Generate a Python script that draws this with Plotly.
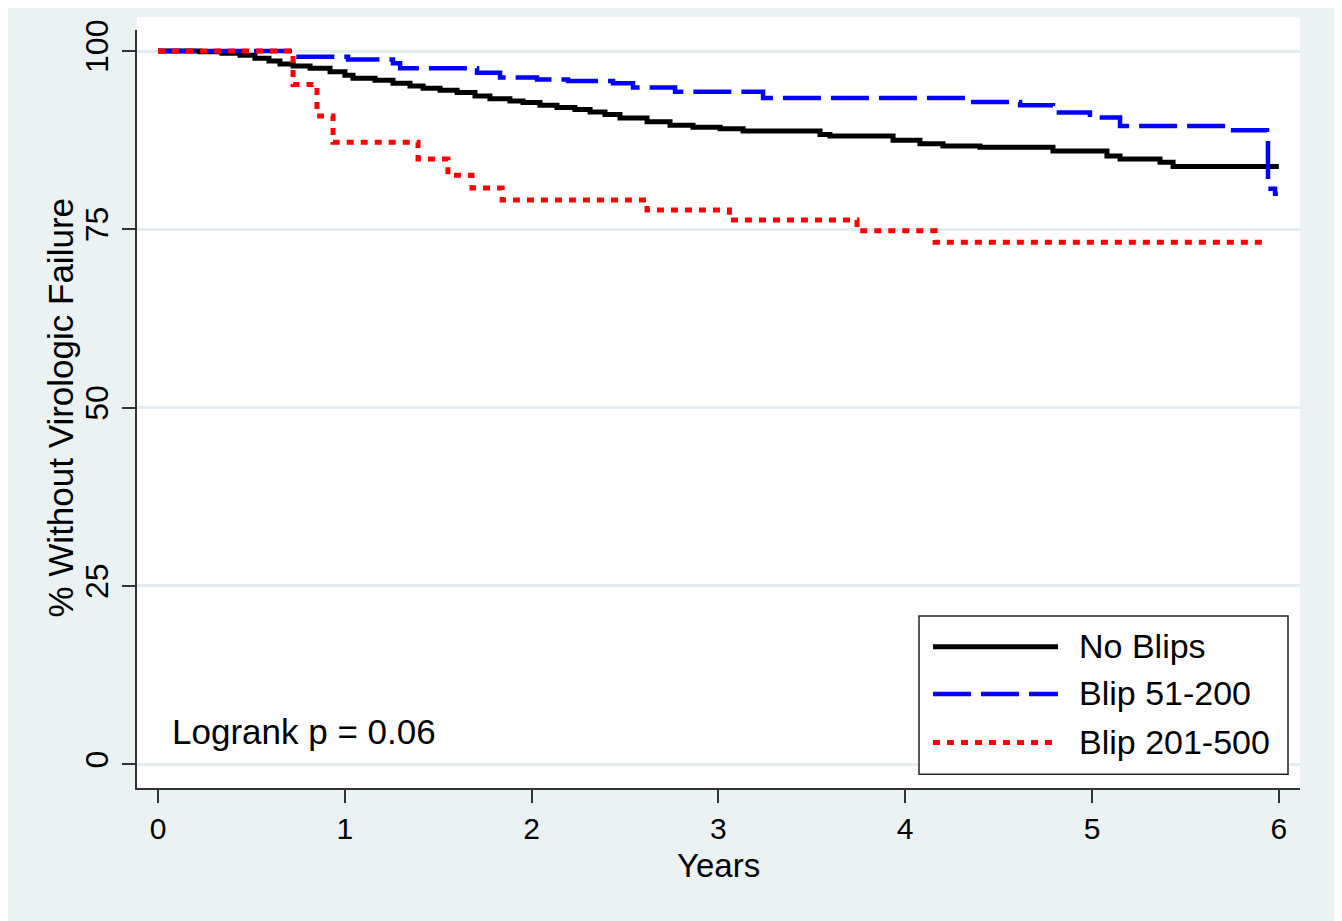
import plotly.graph_objects as go

# ---- data ----
years_no_blips = [0, 0.225, 0.343, 0.439, 0.519, 0.594, 0.653, 0.723, 0.814, 0.921, 1.001, 1.044,
                  1.162, 1.258, 1.349, 1.419, 1.51, 1.601, 1.697, 1.777, 1.884, 1.954, 2.045, 2.136,
                  2.232, 2.313, 2.393, 2.473, 2.618, 2.741, 2.864, 3.009, 3.132, 3.544, 3.597, 3.935,
                  4.079, 4.202, 4.4, 4.791, 5.08, 5.15, 5.364, 5.434, 6.0]
surv_no_blips = [100, 99.9, 99.7, 99.4, 99.0, 98.6, 98.2, 97.9, 97.6, 97.1, 96.6, 96.2,
                 95.9, 95.5, 95.1, 94.8, 94.5, 94.2, 93.7, 93.3, 93.0, 92.8, 92.4, 92.1,
                 91.8, 91.45, 91.1, 90.6, 90.1, 89.6, 89.3, 89.1, 88.8, 88.3, 88.1, 87.5,
                 87.0, 86.7, 86.5, 86.0, 85.3, 84.85, 84.4, 83.8, 83.8]

years_blip_51_200 = [0, 0.733, 1.017, 1.258, 1.296, 1.708, 1.831, 2.029, 2.195, 2.436, 2.543,
                     2.768, 3.239, 4.347, 4.615, 4.791, 4.989, 5.15, 5.728, 5.937, 5.942, 5.98, 5.995]
surv_blip_51_200 = [100, 99.2, 98.8, 98.3, 97.6, 96.95, 96.3, 96.0, 95.8, 95.5, 94.9,
                    94.3, 93.4, 92.85, 92.4, 91.4, 90.7, 89.5, 88.9, 87.9, 80.7, 80.0, 80.0]

years_blip_201_500 = [0, 0.723, 0.851, 0.937, 1.392, 1.552, 1.681, 1.842, 2.618, 3.059, 3.742, 4.16, 5.937]
surv_blip_201_500 = [100, 95.3, 90.9, 87.2, 84.85, 82.6, 80.8, 79.1, 77.7, 76.3, 74.8, 73.2, 73.2]

series_names = ["No Blips", "Blip 51-200", "Blip 201-500"]
x_ticks = [0, 1, 2, 3, 4, 5, 6]
y_ticks = [0, 25, 50, 75, 100]
logrank_text = "Logrank p = 0.06"

# ---- styling ----
FONT = "Liberation Sans, Arial, sans-serif"
BG = "#EAF2F3"
colors = ["#000000", "#0000FF", "#FF0000"]
dashes = ["solid", "38px,10px", "7px,7px"]
widths = [5, 4.5, 5]

OFF = 8  # page body margin
W, H = 1327, 913
L, T = 129, 13
PW, PH = 1163, 767
R, B = W - L - PW, H - T - PH


def px_x(px):  # screen pixel -> paper x
    return (px - OFF - L) / PW


def px_y(py):  # screen pixel -> paper y
    return (T + PH - (py - OFF)) / PH


fig = go.Figure()
for name, xs, ys, c, d, w in zip(series_names,
                                 [years_no_blips, years_blip_51_200, years_blip_201_500],
                                 [surv_no_blips, surv_blip_51_200, surv_blip_201_500],
                                 colors, dashes, widths):
    fig.add_trace(go.Scatter(x=xs, y=ys, mode="lines", name=name, line_shape="hv",
                             line=dict(color=c, width=w, dash=d), showlegend=False))

shapes = []
# white area above the plot region (top of the graph region)
shapes.append(dict(type="rect", xref="paper", yref="paper",
                   x0=0, x1=1, y0=1, y1=px_y(OFF),
                   fillcolor="white", line=dict(width=0), layer="above"))

# custom legend box
shapes.append(dict(type="rect", xref="paper", yref="paper",
                   x0=px_x(919), x1=px_x(1288), y0=px_y(774), y1=px_y(614),
                   fillcolor="white", line=dict(color="#222222", width=1.5), layer="above"))
annotations = []
legend_rows = [646, 694, 743]
for name, c, d, w, ry in zip(series_names, colors, dashes, widths, legend_rows):
    shapes.append(dict(type="line", xref="paper", yref="paper",
                       x0=px_x(933), x1=px_x(1058), y0=px_y(ry - 1), y1=px_y(ry - 1),
                       line=dict(color=c, width=w, dash=d), layer="above"))
    annotations.append(dict(x=px_x(1077), y=px_y(ry - 2), xref="paper", yref="paper",
                            text=name, showarrow=False, xanchor="left", yanchor="middle",
                            font=dict(family=FONT, size=34, color="black")))

annotations.append(dict(x=px_x(170), y=px_y(731), xref="paper", yref="paper",
                        text=logrank_text, showarrow=False, xanchor="left", yanchor="middle",
                        font=dict(family=FONT, size=35, color="black")))
annotations.append(dict(x=px_x(61), y=px_y(403), xref="paper", yref="paper",
                        text="% Without Virologic Failure", textangle=-90, showarrow=False,
                        xanchor="center", yanchor="middle",
                        font=dict(family=FONT, size=35, color="black")))
annotations.append(dict(x=px_x(718), y=px_y(866), xref="paper", yref="paper",
                        text="Years", showarrow=False, xanchor="center", yanchor="middle",
                        font=dict(family=FONT, size=33, color="black")))

x0v = (137 - 158) / 186.8
x1v = (1300 - 158) / 186.8
y_per = 7.217
y1v = 100 + (42.3 - 21) / y_per
y0v = -(788 - 764) / y_per

fig.update_layout(
    width=W, height=H,
    margin=dict(l=L, r=R, t=T, b=B, pad=0),
    paper_bgcolor=BG, plot_bgcolor="white",
    shapes=shapes, annotations=annotations,
    font=dict(family=FONT, color="black"),
    xaxis=dict(range=[x0v, x1v], tickvals=x_ticks, ticktext=[str(v) for v in x_ticks],
               showgrid=False, zeroline=False, showline=True, linecolor="#333333", linewidth=2,
               ticks="outside", ticklen=13, tickwidth=2, tickcolor="#333333",
               tickfont=dict(family=FONT, size=30, color="black"), ticklabelstandoff=0),
    yaxis=dict(range=[y0v, y1v], tickvals=y_ticks, ticktext=[str(v) for v in y_ticks],
               showgrid=True, gridcolor="#E3EDF0", gridwidth=2.5, zeroline=False,
               showline=True, linecolor="#333333", linewidth=2,
               ticks="outside", ticklen=13, tickwidth=2, tickcolor="#333333", tickangle=-90,
               tickfont=dict(family=FONT, size=32, color="black"), ticklabelstandoff=1),
)

fig.write_html("out.html")
